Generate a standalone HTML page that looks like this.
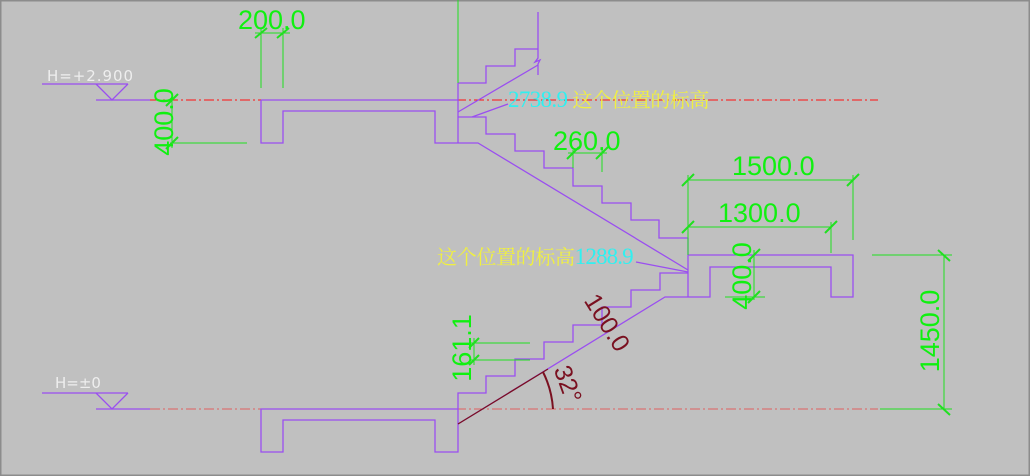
<!DOCTYPE html>
<html><head><meta charset="utf-8"><style>
html,body{margin:0;padding:0;background:#c0c0c0;}
svg{display:block;}
</style></head><body>
<svg width="1030" height="476" viewBox="0 0 1030 476" xmlns="http://www.w3.org/2000/svg">
<rect x="0" y="0" width="1030" height="476" fill="#c0c0c0"/>
<rect x="0.5" y="0.5" width="1029" height="475" fill="none" stroke="#8c8c8c" stroke-width="2"/>
<g stroke-width="1" stroke-dasharray="10,3,2,3" fill="none">
<line x1="150" y1="100" x2="878" y2="100" stroke="#ff1010"/>
<line x1="150" y1="409" x2="878" y2="409" stroke="#e06060"/>
</g>
<g stroke="#9a4ef0" stroke-width="1.3" fill="none">
<line x1="42" y1="84" x2="128" y2="84"/>
<polyline points="96,84 112,100 128,84"/>
<line x1="96" y1="100" x2="150" y2="100"/>
<line x1="42" y1="393" x2="128" y2="393"/>
<polyline points="96,393 112,409 128,393"/>
<line x1="96" y1="409" x2="150" y2="409"/>
<polyline points="261,100 458,100"/>
<polyline points="261,100 261,143 283,143 283,111 435,111 435,143 478,143 688,270"/>
<line x1="458" y1="83" x2="458" y2="143"/>
<polyline points="458,83 486,83 486,66 515,66 515,49 538,49"/>
<polyline points="538,12 538,58 535,62 540,60 538,64 538,75"/>
<line x1="458" y1="112" x2="538" y2="65"/>
<line x1="472" y1="117" x2="508" y2="104"/>
<polyline points="458,117 486,117 486,134 515,134 515,151 544,151 544,168 573,168 573,186 602,186 602,203 631,203 631,220 659,220 659,238 688,238"/>
<line x1="688" y1="238" x2="688" y2="297"/>
<polyline points="688,255 853,255 853,297 831,297 831,267 710,267 710,297 688,297 665,297 458,424"/>
<line x1="636" y1="262" x2="688" y2="272"/>
<polyline points="688,273 660,273 660,290 631,290 631,307 602,307 602,325 573,325 573,342 544,342 544,359 515,359 515,376 486,376 486,393 458,393 458,452 435,452 435,420 283,420 283,452 261,452 261,409 458,409"/>
</g>
<line x1="458" y1="424" x2="548" y2="369" stroke="#7a1020" stroke-width="1.3"/>
<g stroke="#20e020" stroke-width="1" fill="none">
<line x1="458" y1="0" x2="458" y2="83"/>
<line x1="261" y1="28" x2="261" y2="88"/>
<line x1="283" y1="28" x2="283" y2="88"/>
<line x1="255" y1="33" x2="290" y2="33"/>
<line x1="172" y1="93" x2="172" y2="148"/>
<line x1="170" y1="143" x2="247" y2="143"/>
<line x1="573" y1="150" x2="573" y2="168"/>
<line x1="602" y1="148" x2="602" y2="172"/>
<line x1="568" y1="153" x2="607" y2="153"/>
<line x1="688" y1="175" x2="688" y2="255"/>
<line x1="853" y1="175" x2="853" y2="240"/>
<line x1="831" y1="222" x2="831" y2="253"/>
<line x1="688" y1="180" x2="853" y2="180"/>
<line x1="688" y1="227" x2="831" y2="227"/>
<line x1="754" y1="250" x2="754" y2="300"/>
<line x1="725" y1="297" x2="765" y2="297"/>
<line x1="872" y1="255" x2="952" y2="255"/>
<line x1="880" y1="409" x2="952" y2="409"/>
<line x1="944" y1="255" x2="944" y2="409"/>
<line x1="470" y1="343" x2="530" y2="343"/>
<line x1="470" y1="360" x2="530" y2="360"/>
<line x1="474" y1="338" x2="474" y2="365"/>
</g>
<g stroke="#20e020" stroke-width="2">
<line x1="255" y1="38" x2="267" y2="28"/><line x1="277" y1="38" x2="289" y2="28"/>
<line x1="166" y1="106" x2="178" y2="94"/><line x1="166" y1="149" x2="178" y2="137"/>
<line x1="567" y1="159" x2="579" y2="147"/><line x1="596" y1="159" x2="608" y2="147"/>
<line x1="682" y1="186" x2="694" y2="174"/><line x1="847" y1="186" x2="859" y2="174"/>
<line x1="682" y1="233" x2="694" y2="221"/><line x1="825" y1="233" x2="837" y2="221"/>
<line x1="748" y1="261" x2="760" y2="249"/><line x1="748" y1="303" x2="760" y2="291"/>
<line x1="938" y1="250" x2="950" y2="261"/><line x1="938" y1="404" x2="950" y2="415"/>
<line x1="469" y1="348" x2="479" y2="338"/><line x1="469" y1="365" x2="479" y2="355"/>
</g>
<path d="M 543 372 A 95 95 0 0 1 553 409" stroke="#7a1020" stroke-width="2" fill="none"/>
<g font-family="Liberation Sans, sans-serif" fill="#10f010" font-size="27">
<text x="238" y="29">200.0</text>
<text x="553" y="150">260.0</text>
<text x="732" y="175">1500.0</text>
<text x="718" y="222">1300.0</text>
<text transform="translate(173,122) rotate(-90)" text-anchor="middle">400.0</text>
<text transform="translate(751,276) rotate(-90)" text-anchor="middle">400.0</text>
<text transform="translate(939,331) rotate(-90)" text-anchor="middle">1450.0</text>
<text transform="translate(471,348) rotate(-90)" text-anchor="middle">161.1</text>
</g>
<g font-family="Liberation Sans, sans-serif" fill="#7a1020" font-size="25">
<text transform="translate(600,327) rotate(58)" text-anchor="middle">100.0</text>
<text transform="translate(560,387) rotate(70)" text-anchor="middle">32°</text>
</g>
<text x="47" y="81" font-family="DejaVu Sans, sans-serif" font-size="15" fill="#eeeeee" textLength="86">H=+2.900</text>
<text x="55" y="388" font-family="DejaVu Sans, sans-serif" font-size="15" fill="#eeeeee">H=±0</text>
<text x="508" y="107" font-family="Liberation Serif, 'Noto Serif CJK SC', serif" font-size="20"><tspan fill="#30f0f0" font-size="23" textLength="60">2738.9</tspan><tspan fill="#f0f040" dx="5" textLength="137">这个位置的标高</tspan></text>
<text x="437" y="264" font-family="Liberation Serif, 'Noto Serif CJK SC', serif" font-size="20"><tspan fill="#f0f040" textLength="138">这个位置的标高</tspan><tspan fill="#30f0f0" font-size="23" textLength="59">1288.9</tspan></text>
</svg>
</body></html>
